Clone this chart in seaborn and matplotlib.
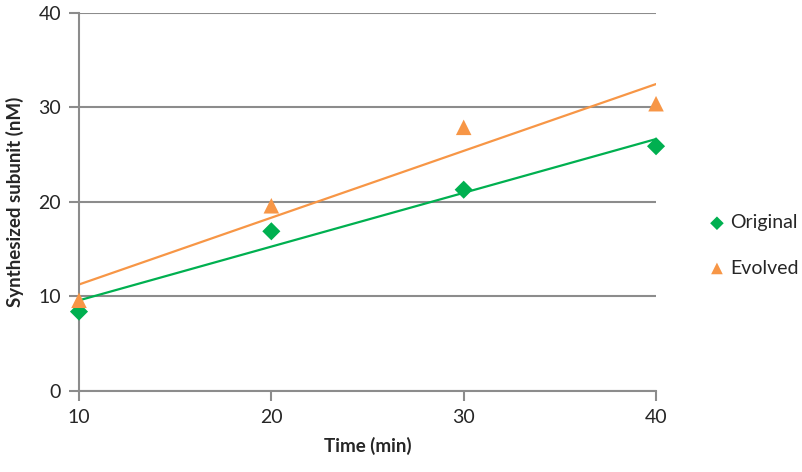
import numpy as np
import pandas as pd
import seaborn as sns
import matplotlib.pyplot as plt

sns.set_theme(style='white')
plt.rcParams['font.family'] = ['Lato', 'DejaVu Sans']

# values
time_min = [10, 20, 30, 40]
original = [8.4, 16.9, 21.3, 25.9]
evolved = [9.6, 19.6, 27.9, 30.4]

green = '#00B050'
orange = '#F79646'
grid_grey = '#8C8C8C'

df = pd.DataFrame({'time': time_min, 'Original': original, 'Evolved': evolved})

fig = plt.figure(figsize=(8.02, 4.72), dpi=100)
ax = fig.add_axes([0.0985, 0.1716, 0.7195, 0.8009])

# trend lines first, markers on top
sns.regplot(data=df, x='time', y='Original', ax=ax, ci=None, scatter=False,
            truncate=True, line_kws={'color': green, 'lw': 1.6, 'zorder': 2})
sns.regplot(data=df, x='time', y='Evolved', ax=ax, ci=None, scatter=False,
            truncate=True, line_kws={'color': orange, 'lw': 1.6, 'zorder': 2})
sns.scatterplot(data=df, x='time', y='Original', ax=ax, marker='D', s=85,
                color=green, edgecolor='none', zorder=3, label='Original')
sns.scatterplot(data=df, x='time', y='Evolved', ax=ax, marker='^', s=125,
                color=orange, edgecolor='none', zorder=3, label='Evolved')
for coll in ax.collections:
    coll.set_clip_on(False)

ax.set_xlim(10, 40)
ax.set_ylim(0, 40)
ax.set_xticks([10, 20, 30, 40])
ax.set_yticks([0, 10, 20, 30, 40])
ax.yaxis.grid(True, color=grid_grey, lw=1.5)
ax.set_axisbelow(True)
sns.despine(ax=ax, top=True, right=True)
for side in ['left', 'bottom']:
    ax.spines[side].set_color(grid_grey)
    ax.spines[side].set_linewidth(1.5)
ax.tick_params(axis='both', which='both', direction='out', length=7,
               width=1.5, color=grid_grey, labelsize=14, pad=6,
               left=True, bottom=True)

ax.set_xlabel('Time (min)', fontsize=13.5, fontweight='bold', labelpad=8)
ax.set_ylabel('Synthesized subunit (nM)', fontsize=13.5, fontweight='bold', labelpad=10)

handles, labels = ax.get_legend_handles_labels()
ax.legend_.remove()
fig.legend(handles, labels, loc='center left', bbox_to_anchor=(0.86, 0.48),
           frameon=False, fontsize=14, handletextpad=0.2, labelspacing=1.45,
           markerscale=0.75, handlelength=1.0)

fig.savefig('out.png', dpi=100)
